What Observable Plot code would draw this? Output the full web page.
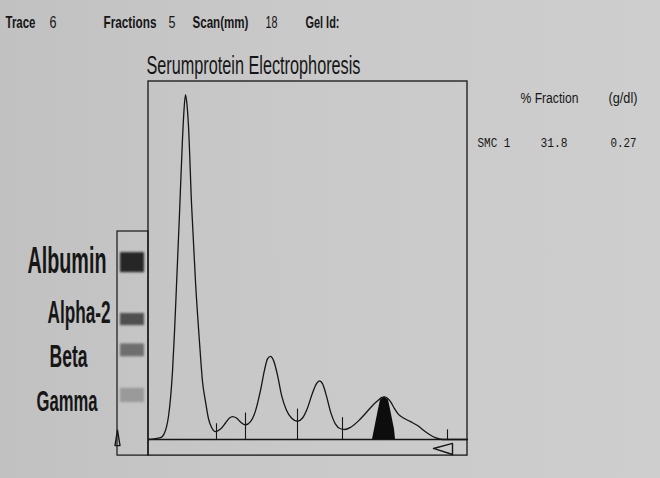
<!DOCTYPE html>
<html><head><meta charset="utf-8">
<script src="https://cdn.jsdelivr.net/npm/d3@7"></script>
<script src="https://cdn.jsdelivr.net/npm/@observablehq/plot@0.6"></script>
<style>
html,body{margin:0;padding:0;}
body{width:660px;height:478px;overflow:hidden;background:linear-gradient(90deg,#c1c1c1 0%,#c9c9c9 45%,#cecece 100%);}
</style></head><body><div id="chart"></div>
<script>
// ---------------- data ----------------
const scanPos = [0,12,16,18,20,22,24,26,28,31,34,35.5,37,38.5,40,43,47,51,54,57,60,63,67,72,77,81,84,88,92,97,102,107,112,116,119,122,125,129,133,138,143,149,154,159,164,168,171,174,178,182,187,192,196,202,210,218,225,230,233,236,239,242,246,250,255,262,269,275,281,287,294,319];
const density = [0,0.5,1.8,3.5,6.5,11.5,19,30,43,63,84,92,96.3,93.5,87.5,66,44,27.2,16.2,10.6,5.8,3.4,2.2,2.9,4.6,6.0,6.4,6.0,4.9,4.1,5.0,8.0,13.7,19.4,22.5,23.2,22.1,18.0,12.4,8.2,6.0,5.1,6.0,8.8,13.0,15.6,16.4,15.6,12.1,7.8,4.3,3.0,2.8,3.4,5.2,7.6,9.8,11.0,11.7,11.9,11.5,10.6,8.6,7.0,6.0,5.0,3.9,2.6,1.4,0.5,0,0];
const spikePos = [224,226,228,230,232,236,240,242,244,246,247];
const spikeDensity = [0,2.8,5.6,8.4,11.0,11.9,11.0,8.4,5.6,2.8,0];
const fractionBoundaries = [68,97,149,194,299];
const boundaryHeight = [4.4,7.4,8.5,6.1,2.7];
const bandNames = ["Albumin","Alpha-2","Beta","Gamma"];
const bandCenter = [49.4,33.5,24.9,12.3];
const bandHalf = [2.8,1.7,1.8,2.0];
const bandShade = ["#262626","#4f4f4f","#6e6e6e","#9a9a9a"];
const headerLabels = ["Trace","Fractions","Scan(mm)","Gel Id:"];
const headerValues = ["6","5","18"];
const chartTitle = "Serumprotein Electrophoresis";
const tableHeaders = ["% Fraction","(g/dl)"];
const tableRow = ["SMC 1","31.8","0.27"];

// chart extents (data units)
const scanExtent = [0,319];
const stripBottom = -4.5;
const gelStrip = {x1:-31, x2:0, y1:-4.5, y2:58.1};
const bandX = [-28,-4];
const stripMarker = [{x:285,y:-2.5},{x:304,y:-1.1},{x:304,y:-4.2},{x:285,y:-2.5}];
const gelArrow = [{x:-31,y:2.6},{x:-33.5,y:-1.7},{x:-28.5,y:-1.7},{x:-31,y:2.6}];

// ---------------- build ----------------
const curve = scanPos.map((x,i)=>({x, y:density[i]}));
const spike = spikePos.map((x,i)=>({x, y:spikeDensity[i]}));
const bounds = fractionBoundaries.map((x,i)=>({x, top:boundaryHeight[i]}));
const bands = bandNames.map((name,i)=>({name, y1:bandCenter[i]-bandHalf[i], y2:bandCenter[i]+bandHalf[i], shade:bandShade[i]}));

const INK = "#161616";
const SANS = "'Liberation Sans', Arial, Helvetica, sans-serif";
const MONO = "'Liberation Mono', 'DejaVu Sans Mono', monospace";
const fitWidths = new Map();
function label(str, dx, dy, size, w, weight="normal", family=SANS) {
  if (w) fitWidths.set(str, w);
  return Plot.text([str], {text:d=>d, frameAnchor:"top-left", textAnchor:"start", lineAnchor:"bottom",
    dx, dy, fontSize:size, fontFamily:family, fontWeight:weight, fill:INK});
}

const svg = Plot.plot({
  width:660, height:478, margin:0,
  x:{domain:scanExtent, range:[148,467], axis:null},
  y:{domain:[0,100], range:[439,81], axis:null},
  style:{background:"transparent", overflow:"visible"},
  marks:[
    // gel strip & bands
    Plot.rect(bands, {x1:bandX[0], x2:bandX[1], y1:"y1", y2:"y2", fill:"shade", ariaDescription:"gel bands"}),
    Plot.rect([gelStrip], {x1:"x1", x2:"x2", y1:"y1", y2:"y2", fill:"none", stroke:INK, strokeWidth:1.2}),
    Plot.line(gelArrow, {x:"x", y:"y", stroke:INK, strokeWidth:1.4}),
    // frame
    Plot.rect([{x1:scanExtent[0], x2:scanExtent[1], y1:stripBottom, y2:100}], {x1:"x1", x2:"x2", y1:"y1", y2:"y2", fill:"none", stroke:INK, strokeWidth:1.3}),
    Plot.ruleY([0], {x1:scanExtent[0], x2:scanExtent[1], stroke:INK, strokeWidth:1.3}),
    Plot.line(stripMarker, {x:"x", y:"y", stroke:INK, strokeWidth:1.4}),
    // spike & densitometry trace
    Plot.areaY(spike, {x:"x", y:"y", fill:"#0d0d0d"}),
    Plot.line(curve, {x:"x", y:"y", stroke:INK, strokeWidth:1.3, curve:"monotone-x"}),
    Plot.ruleX(bounds, {x:"x", y1:0, y2:"top", stroke:INK, strokeWidth:1.1}),
    // texts
    label(headerLabels[0], 5, 27, 17, 30, "bold"),
    label(headerValues[0], 49, 27, 17, 7),
    label(headerLabels[1], 103, 27, 17, 53, "bold"),
    label(headerValues[1], 168, 27, 17, 7),
    label(headerLabels[2], 192, 27, 17, 56, "bold"),
    label(headerValues[2], 265, 27, 17, 12),
    label(headerLabels[3], 305, 27, 17, 34, "bold"),
    label(chartTitle, 146, 73, 25, 214),
    label(tableHeaders[0], 520, 102, 15, 58),
    label(tableHeaders[1], 608, 102, 15, 29),
    label(tableRow[0], 477, 146, 13, 33, "normal", MONO),
    label(tableRow[1], 540, 146, 13, 27, "normal", MONO),
    label(tableRow[2], 610, 146, 13, 26, "normal", MONO),
    label(bandNames[0], 27, 272, 37, 79, "bold"),
    label(bandNames[1], 47, 322, 32, 63, "bold"),
    label(bandNames[2], 49, 366, 32, 38, "bold"),
    label(bandNames[3], 36, 410, 30, 61, "bold")
  ]
});

document.getElementById("chart").appendChild(svg);

const root = d3.select(svg);
// condense each text horizontally to the printed width
root.selectAll("text").each(function(){
  const w = fitWidths.get(this.textContent);
  if (!w) return;
  const natural = this.getComputedTextLength();
  if (!natural) return;
  const k = w / natural;
  const t = this.getAttribute("transform") || "";
  this.setAttribute("transform", (t + ` scale(${k.toFixed(4)},1)`).trim());
});
const defs = root.insert("defs", ":first-child");
const f = defs.append("filter").attr("id","bandBlur").attr("x","-20%").attr("y","-80%").attr("width","140%").attr("height","260%");
f.append("feGaussianBlur").attr("stdDeviation", 1.3);
root.selectAll('g[aria-description="gel bands"]').attr("filter","url(#bandBlur)");
</script>
</body></html>
